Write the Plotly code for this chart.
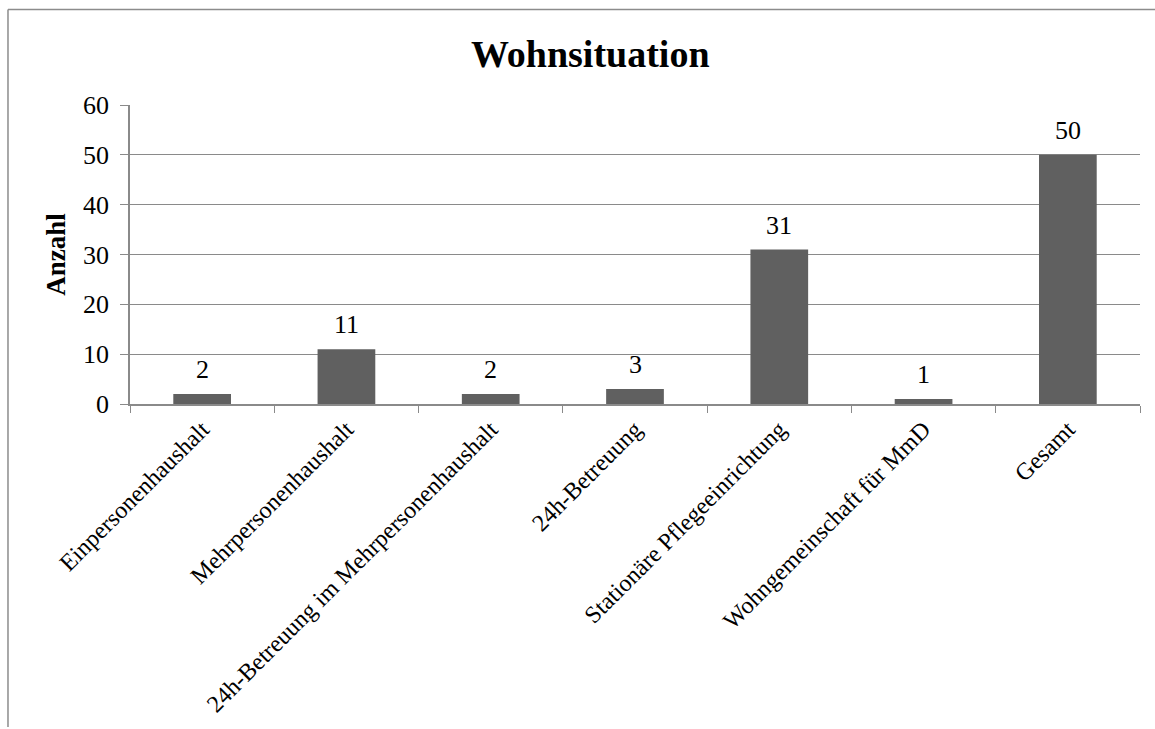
import plotly.graph_objects as go

# Wohnsituation der Befragten
categories = [
    "Einpersonenhaushalt",
    "Mehrpersonenhaushalt",
    "24h-Betreuung im Mehrpersonenhaushalt",
    "24h-Betreuung",
    "Stationäre Pflegeeinrichtung",
    "Wohngemeinschaft für MmD",
    "Gesamt",
]
counts = [2, 11, 2, 3, 31, 1, 50]
y_ticks = [0, 10, 20, 30, 40, 50, 60]

FONT = "Liberation Serif, Times New Roman, serif"
GRID = "#8a8a8a"
BAR = "#606060"

fig = go.Figure(
    go.Bar(
        x=categories,
        y=counts,
        marker=dict(color=BAR, line=dict(width=0)),
        hoverinfo="skip",
    )
)

# value labels above each bar
for c, v in zip(categories, counts):
    fig.add_annotation(
        x=c, y=v, text=str(v), showarrow=False,
        yanchor="bottom", yshift=8,
        font=dict(family=FONT, size=26, color="black"),
    )

# outer chart frame (top and left edges)
fig.add_shape(type="line", xref="paper", yref="paper",
              x0=-0.1208, x1=1.03, y0=1.319, y1=1.319,
              line=dict(color="#8c8c8c", width=1.5))
fig.add_shape(type="line", xref="paper", yref="paper",
              x0=-0.1208, x1=-0.1208, y0=1.319, y1=-1.08,
              line=dict(color="#8c8c8c", width=1.5))

fig.update_layout(
    width=1155, height=729,
    margin=dict(l=130, r=15, t=105, b=323),
    paper_bgcolor="white", plot_bgcolor="white",
    bargap=0.6,
    showlegend=False,
    title=dict(
        text="<b>Wohnsituation</b>",
        x=0.511, xanchor="center", xref="container",
        y=0.926, yanchor="middle",
        font=dict(family=FONT, size=38, color="black"),
    ),
    font=dict(family=FONT, color="black"),
)

fig.update_xaxes(
    type="category",
    tickangle=-45,
    tickfont=dict(family=FONT, size=24, color="black"),
    ticks="outside", tickson="boundaries", ticklen=7, tickcolor=GRID,
    showline=True, linecolor=GRID, linewidth=1.5,
    showgrid=False,
)
fig.update_yaxes(
    range=[0, 60],
    tickvals=y_ticks,
    tickfont=dict(family=FONT, size=26, color="black"),
    ticks="outside", ticklen=8, tickcolor=GRID,
    ticklabelstandoff=6,
    showline=True, linecolor=GRID, linewidth=1.5,
    showgrid=True, gridcolor=GRID, gridwidth=1.2,
    zeroline=False,
    title=dict(text="<b>Anzahl</b>", font=dict(family=FONT, size=27, color="black"), standoff=10),
)

fig.write_html("out.html")
